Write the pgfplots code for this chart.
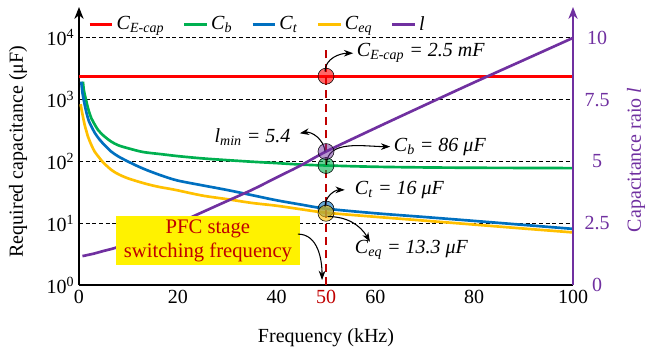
\documentclass[border=0pt]{standalone}
\usepackage{fontspec}
\setmainfont{Liberation Serif}
\usepackage{pgfplots}
\pgfplotsset{compat=1.18}
\usetikzlibrary{arrows.meta}
\definecolor{cred}{HTML}{FF0000}
\definecolor{cgreen}{HTML}{00B050}
\definecolor{cblue}{HTML}{0070C0}
\definecolor{cyellow}{HTML}{FFC000}
\definecolor{cpurple}{HTML}{7030A0}
\definecolor{cdarkred}{HTML}{C00000}
\begin{document}
\begin{tikzpicture}[font=\fontsize{15}{18}\selectfont]
\useasboundingbox (-59.25pt,-49.5pt) rectangle (432pt,213.75pt);
\begin{axis}[
  at={(0,0)}, anchor=south west, scale only axis,
  width=370.5pt, height=208.5pt,
  xmin=0, xmax=100, ymode=log, ymin=1, ymax=31623,
  axis x line=bottom, axis y line=left,
  axis line style={line width=1pt, black},
  x axis line style={-},
  every outer x axis line/.append style={-},
  y axis line style={-{Stealth[length=9pt,width=7pt]}},
  xtick={0,20,40,50,60,80,100},
  xticklabels={0,20,40,\textcolor{cdarkred}{50},60,80,100},
  ytick={1,10,100,1000,10000},
  yticklabels={10\textsuperscript{0},10\textsuperscript{1},10\textsuperscript{2},10\textsuperscript{3},10\textsuperscript{4}},
  yminorticks=false,
  major tick length=0pt,
  ymajorgrids, grid style={black, dash pattern=on 3pt off 2pt, line width=0.6pt},
  xlabel={Frequency (kHz)},
  ylabel={Required capacitance (μF)},
  xlabel style={at={(axis description cs:0.5,-0.19)}, anchor=center},
  ylabel style={at={(axis description cs:-0.1235,0.48)}, anchor=center},
]
\addplot[cred, line width=2pt] coordinates {(0,2400) (100,2400)};
\addplot[cgreen, line width=2pt, smooth] coordinates {
(0.8,1960)(1.0,1400)(1.5,930)(2,650)(2.5,500)(3,420)(3.85,324)(5,260)(6.5,210)(8,182)(10,163)(13,142)(16.7,131)(20,122)(25,112)(30,105)(35,99)(40,94)(45,89)(50,86)(60,82)(70,80)(80,79)(90,78.5)(100,78)};
\addplot[cblue, line width=2pt, smooth] coordinates {
(0.45,1960)(0.7,1300)(1,950)(1.5,620)(2,450)(2.5,370)(3.2,290)(4,235)(5,190)(6.5,145)(8,120)(10,99)(12,83)(14,71)(17,58)(20,49)(25,41)(30,34.5)(35,28.5)(40,23.5)(45,20)(50,17.2)(60,14.5)(70,12.6)(80,10.9)(90,9.4)(100,8.1)};
\addplot[cyellow, line width=2pt, smooth] coordinates {
(0.33,845)(0.6,640)(1.15,390)(1.5,310)(1.82,252)(2.5,185)(3.17,144)(4,118)(4.86,97)(6.55,73)(8,62)(10,53)(13.3,44)(16,39)(18.4,36)(20,34)(25,28)(30,24.5)(35,21.3)(40,19.2)(45,16.8)(50,14.8)(60,12.7)(70,11)(80,9.5)(90,8.2)(100,7.1)};
\addplot[cdarkred, line width=1.2pt, dash pattern=on 6pt off 4pt] coordinates {(50,1) (50,6300)};
\addplot[only marks, mark=*, mark size=6pt, mark options={draw=none, fill=cred, fill opacity=0.6}] coordinates {(50,2400)};
\addplot[only marks, mark=*, mark size=6pt, mark options={draw=none, fill=cgreen, fill opacity=0.6}] coordinates {(50,86)};
\addplot[only marks, mark=*, mark size=6pt, mark options={draw=none, fill=cblue, fill opacity=0.6}] coordinates {(50,17)};
\addplot[only marks, mark=*, mark size=6pt, mark options={draw=none, fill=cyellow, fill opacity=0.6}] coordinates {(50,14.5)};
\end{axis}
\begin{axis}[
  at={(0,0)}, anchor=south west, scale only axis,
  width=370.5pt, height=208.5pt,
  xmin=0, xmax=100, ymin=0, ymax=11.25,
  axis x line=none, axis y line=right,
  y axis line style={cpurple, line width=1pt, -{Stealth[length=9pt,width=7pt]}},
  ytick={0,2.5,5,7.5,10}, yticklabels={0,2.5,5,7.5,10},
  yticklabel style={text=cpurple, anchor=center, xshift=18pt},
  major tick length=0pt,
  ylabel={Capacitance raio \textit{l}},
  ylabel style={text=cpurple, at={(axis description cs:1.1275,0.45)}, anchor=center},
  clip=false,
  legend style={at={(axis description cs:0.01,0.938)}, anchor=west, draw=none, fill=none,
    legend columns=5, /tikz/every even column/.append style={column sep=12pt},
    font=\fontsize{15}{18}\selectfont},
]
\addlegendimage{cred, line width=2.2pt}
\addlegendentry{\textit{C}\textsubscript{\textit{E-cap}}}
\addlegendimage{cgreen, line width=2.2pt}
\addlegendentry{\textit{C}\textsubscript{\textit{b}}}
\addlegendimage{cblue, line width=2.2pt}
\addlegendentry{\textit{C}\textsubscript{\textit{t}}}
\addlegendimage{cyellow, line width=2.2pt}
\addlegendentry{\textit{C}\textsubscript{\textit{eq}}}
\addplot[cpurple, line width=2pt, smooth] coordinates {
(0.7,1.17)(3,1.27)(5,1.38)(7.3,1.5)(10,1.7)(15,2.1)(20,2.5)(25,2.95)(30,3.4)(35,3.85)(40,4.35)(45,4.85)(50,5.4)(60,6.35)(70,7.28)(80,8.2)(90,9.1)(100,10)};
\addlegendentry{\textit{l}}
\addplot[only marks, mark=*, mark size=6pt, mark options={draw=none, fill=cpurple, fill opacity=0.5}, forget plot] coordinates {(50,5.4)};
\node[fill=yellow, text=cdarkred, align=center, minimum width=138pt, minimum height=36.75pt, inner sep=1pt, font=\fontsize{15.5}{18}\selectfont] at (axis cs:26.1,1.80) {PFC stage\\switching frequency};
\draw[-{Stealth[length=7pt,width=5pt]}, line width=0.8pt] (axis cs:44.3,2.06) to[out=0,in=90] (axis cs:49.2,0.20);
\draw[-{Stealth[length=7pt,width=5pt]}, line width=0.8pt] (axis cs:49.8,8.64) to[out=90,in=180] (axis cs:55.5,9.38);
\draw[-{Stealth[length=7pt,width=5pt]}, line width=0.8pt] (axis cs:49.8,5.4) to[out=95,in=10] (axis cs:44.7,6.14);
\draw[-{Stealth[length=7pt,width=5pt]}, line width=0.8pt] (axis cs:50.1,4.86) to[out=90,in=180] (axis cs:63.0,5.60);
\draw[-{Stealth[length=7pt,width=5pt]}, line width=0.8pt] (axis cs:49.8,3.17) to[out=90,in=180] (axis cs:53.8,3.85);
\draw[-{Stealth[length=7pt,width=5pt]}, line width=0.8pt] (axis cs:50.4,2.77) to[out=0,in=120] (axis cs:58.9,1.75);
\node[anchor=west, inner sep=1pt] at (axis cs:55.9,9.39) {\textit{C}\textsubscript{\textit{E-cap}} \textit{= 2.5 mF}};
\node[anchor=east, inner sep=1pt] at (axis cs:43.1,5.99) {\textit{l}\textsubscript{\textit{min}} \textit{= 5.4}};
\node[anchor=west, inner sep=1pt] at (axis cs:63.4,5.60) {\textit{C}\textsubscript{\textit{b}} \textit{= 86 μF}};
\node[anchor=west, inner sep=1pt] at (axis cs:55.5,3.85) {\textit{C}\textsubscript{\textit{t}} \textit{= 16 μF}};
\node[anchor=west, inner sep=1pt] at (axis cs:55.5,1.42) {\textit{C}\textsubscript{\textit{eq}} \textit{= 13.3 μF}};
\end{axis}
\end{tikzpicture}
\end{document}
